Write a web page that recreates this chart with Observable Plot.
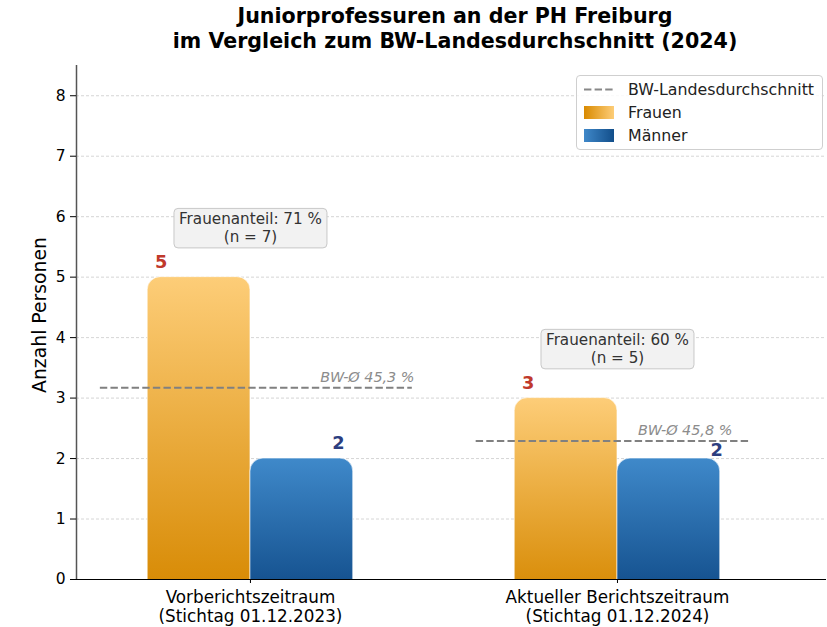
<!DOCTYPE html>
<html>
<head>
<meta charset="utf-8">
<script src="https://cdn.jsdelivr.net/npm/d3@7"></script>
<script src="https://cdn.jsdelivr.net/npm/@observablehq/plot@0.6"></script>
<style>
  body { margin: 0; background: white; font-family: "DejaVu Sans", sans-serif; }
  #wrap { position: relative; width: 827px; height: 627px; overflow: hidden; }
  #title { position: absolute; left: 76px; top: 4px; width: 758px; text-align: center; font-weight: bold; font-size: 20.6px; line-height: 25px; color: #000; }
  #chart { position: absolute; left: 0; top: 58px; }
  #legend { position: absolute; left: 576px; top: 75px; width: 245px; height: 73px; border: 1px solid #cfcfcf; border-radius: 4px; background: rgba(255,255,255,0.85); font-size: 15.8px; }
  .li { position: absolute; left: 0; height: 20px; width: 245px; }
  .li span.t { position: absolute; left: 51px; top: 1px; color: #222; }
  .sw { position: absolute; left: 7px; top: 4px; width: 30px; height: 13px; }
  .ln { position: absolute; left: 7px; top: 9px; }
</style>
</head>
<body>
<div id="wrap">
  <div id="title">Juniorprofessuren an der PH Freiburg<br>im Vergleich zum BW-Landesdurchschnitt (2024)</div>
  <div id="chart"></div>
  <div id="legend">
    <div class="li" style="top:3px"><svg class="ln" width="30" height="3"><line x1="0" y1="1.5" x2="30" y2="1.5" stroke="#888" stroke-width="2" stroke-dasharray="7.4,3.2"/></svg><span class="t">BW-Landesdurchschnitt</span></div>
    <div class="li" style="top:26px"><div class="sw" style="background:linear-gradient(to right,#d98a00,#fdcd78)"></div><span class="t">Frauen</span></div>
    <div class="li" style="top:49px"><div class="sw" style="background:linear-gradient(to right,#3f88c9,#124e8a)"></div><span class="t">Männer</span></div>
  </div>
</div>
<script>
const categories = ["Vorberichtszeitraum\n(Stichtag 01.12.2023)", "Aktueller Berichtszeitraum\n(Stichtag 01.12.2024)"];
const frauen = [5, 3];
const maenner = [2, 2];
const bwPercent = [45.3, 45.8];
const frauenanteil = [71, 60];
const yTicks = [0, 1, 2, 3, 4, 5, 6, 7, 8];

const rows = categories.map((c, i) => ({
  i, cat: c, f: frauen[i], m: maenner[i], n: frauen[i] + maenner[i],
  bw: bwPercent[i] / 100 * (frauen[i] + maenner[i]),
  bwLabel: "BW-Ø " + String(bwPercent[i]).replace(".", ",") + " %",
  anno: "Frauenanteil: " + frauenanteil[i] + " %\n(n = " + (frauen[i] + maenner[i]) + ")"
}));
const barW = 0.28;
const xMin = -0.474, xMax = 1.5695;

const chart = Plot.plot({
  width: 827, height: 569,
  marginTop: 7, marginBottom: 48, marginLeft: 76, marginRight: 1,
  style: { fontFamily: "DejaVu Sans", fontSize: "15px", color: "#000", background: "white", overflow: "visible" },
  x: { domain: [xMin, xMax], label: null },
  y: { domain: [0, 8.5], label: null },
  marks: [
    Plot.gridY(yTicks.slice(1), { stroke: "#d0d0d0", strokeOpacity: 1, strokeWidth: 0.9, strokeDasharray: "3,2" }),
    Plot.rect(rows, { x1: d => d.i - barW, x2: d => d.i, y1: 0, y2: "f", fill: "url(#gF)", stroke: "#fff", strokeOpacity: 0.6, strokeWidth: 1, rx: 13, insetBottom: -20, clip: "frame" }),
    Plot.rect(rows, { x1: d => d.i, x2: d => d.i + barW, y1: 0, y2: "m", fill: "url(#gM)", stroke: "#fff", strokeOpacity: 0.6, strokeWidth: 1, rx: 13, insetBottom: -20, clip: "frame" }),
    Plot.ruleY(rows, { y: "bw", x1: d => d.i - (d.i ? 0.385 : 0.409), x2: d => d.i + (d.i ? 0.362 : 0.441), stroke: "#808080", strokeWidth: 2, strokeDasharray: "7.4,3.2" }),
    Plot.text(rows, { x: d => d.i + (d.i ? 0.313 : 0.447), y: d => d.bw + 0.17, text: "bwLabel", textAnchor: "end", fill: "#8c8c8c", fontStyle: "italic", fontSize: 14.4 }),
    Plot.text(rows, { x: d => d.i - barW / 2, dx: -38, y: d => d.f + 0.25, text: d => String(d.f), fill: "#c0392b", fontWeight: "bold", fontSize: 17.8 }),
    Plot.text(rows, { x: d => d.i + (d.i ? 0.27 : 0.24), y: d => d.m + (d.i ? 0.13 : 0.25), text: d => String(d.m), fill: "#2c3e7f", fontWeight: "bold", fontSize: 17.8 }),
    Plot.text(rows, { x: "i", y: d => d.f + 0.82, text: "anno", fill: "#333", fontSize: 15.2, lineHeight: 1.15, className: "anno" }),
    Plot.ruleX([xMin], { stroke: "#555", strokeWidth: 1.5 }),
    Plot.ruleY([0], { stroke: "#000", strokeWidth: 1.2 }),
    Plot.axisY({ ticks: yTicks, tickSize: 6, tickPadding: 5, fontSize: 15.5, label: null, tickFormat: d => String(d) }),
    Plot.axisX({ ticks: [0, 1], tickFormat: i => categories[i], tickSize: 4, tickPadding: 6, fontSize: 16.8, lineHeight: 1.13, label: null })
  ]
});
document.getElementById("chart").appendChild(chart);

const svg = d3.select(chart);
const defs = svg.insert("defs", ":first-child");
const gF = defs.append("linearGradient").attr("id", "gF").attr("x1", 0).attr("y1", 0).attr("x2", 0).attr("y2", 1);
gF.append("stop").attr("offset", "0%").attr("stop-color", "#fdcd78");
gF.append("stop").attr("offset", "100%").attr("stop-color", "#d68800");
const gM = defs.append("linearGradient").attr("id", "gM").attr("x1", 0).attr("y1", 0).attr("x2", 0).attr("y2", 1);
gM.append("stop").attr("offset", "0%").attr("stop-color", "#3f89ca");
gM.append("stop").attr("offset", "100%").attr("stop-color", "#104b88");

// boxes behind annotation texts
svg.selectAll("g.anno text").each(function () {
  const b = this.getBBox();
  const t = this.getAttribute("transform");
  const r = d3.select(this.parentNode).insert("rect", () => this)
    .attr("x", b.x - 5).attr("y", b.y - 2).attr("width", b.width + 10).attr("height", b.height + 4)
    .attr("rx", 4).attr("fill", "#f2f2f2").attr("stroke", "#c8c8c8").attr("stroke-width", 1);
  if (t) r.attr("transform", t);
});

// y axis label
svg.append("text")
  .attr("transform", "translate(40,257) rotate(-90)")
  .attr("text-anchor", "middle").attr("dominant-baseline", "middle")
  .attr("font-size", 18.8).attr("font-family", "DejaVu Sans").attr("fill", "#000")
  .text("Anzahl Personen");
</script>
</body>
</html>
